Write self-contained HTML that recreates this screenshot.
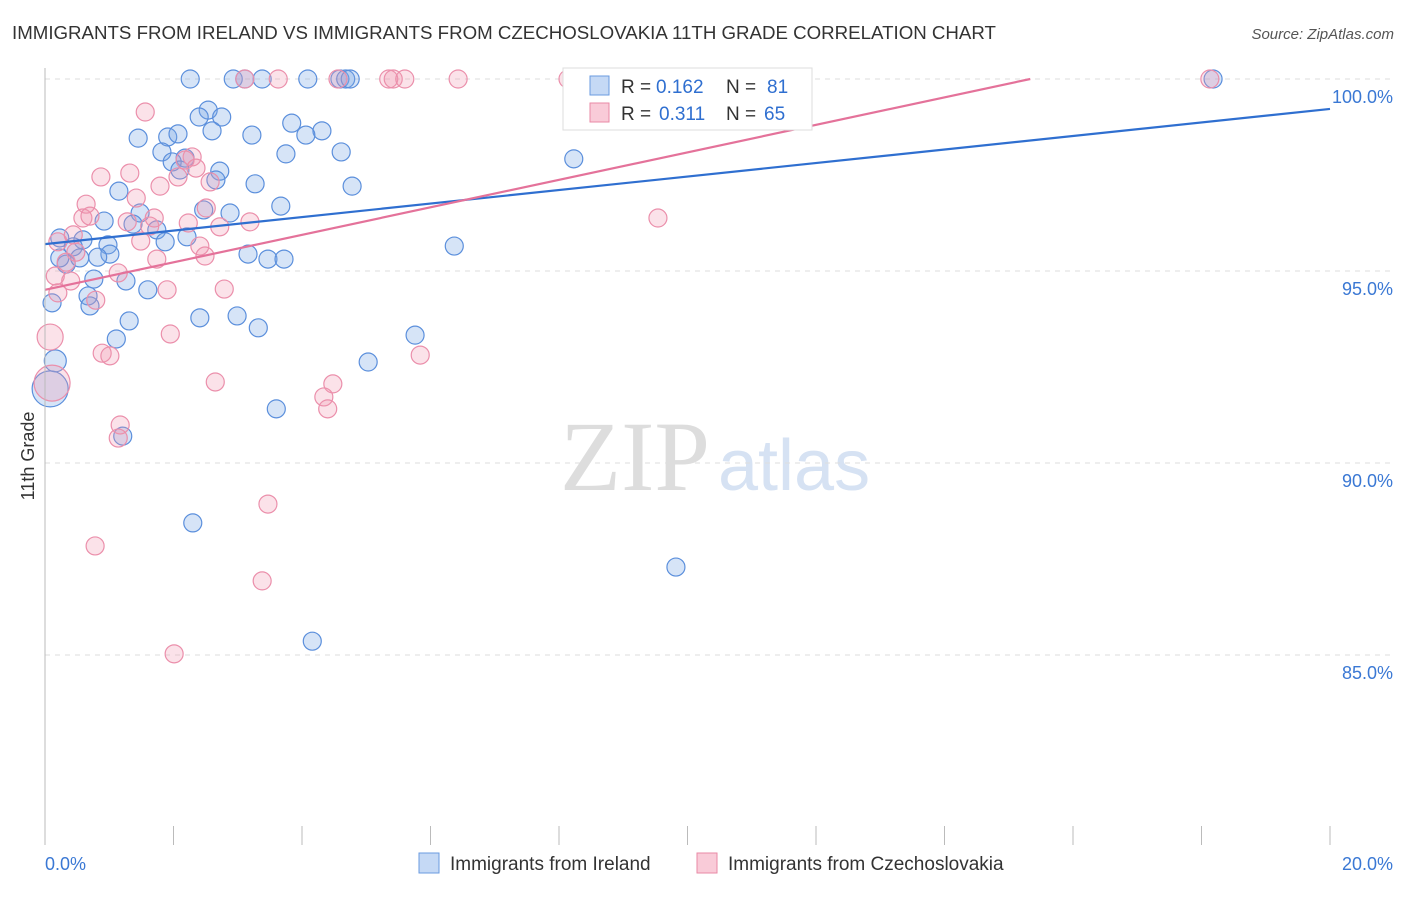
<!DOCTYPE html>
<html><head><meta charset="utf-8"><style>
body{margin:0;background:#fff;font-family:"Liberation Sans",sans-serif;}
</style></head><body>
<svg id="c" width="1406" height="892" xmlns="http://www.w3.org/2000/svg" font-family="Liberation Sans, sans-serif">
<text x="12" y="39" font-size="18.7" fill="#333">IMMIGRANTS FROM IRELAND VS IMMIGRANTS FROM CZECHOSLOVAKIA 11TH GRADE CORRELATION CHART</text>
<text x="1394" y="39" font-size="15" fill="#555" text-anchor="end" font-style="italic">Source: ZipAtlas.com</text>
<text x="635" y="490" font-size="100" fill="#ddd" text-anchor="middle" style="font-family:'Liberation Serif',serif">ZIP</text>
<text x="718" y="490" font-size="72" fill="#d6e2f3">atlas</text>
<text x="34" y="456" font-size="18" fill="#333" text-anchor="middle" transform="rotate(-90 34 456)">11th Grade</text>
<g id="grid"></g><g id="pts"></g><g id="lines"></g>
<line x1="45" y1="68" x2="45" y2="845" stroke="#bbb"/>
<g>
<rect x="563" y="68" width="249" height="62" fill="#fff" stroke="#ddd"/>
<rect x="590" y="76" width="19" height="19" fill="#c5d9f5" stroke="#6a9be0"/>
<rect x="590" y="103" width="19" height="19" fill="#f9cbd8" stroke="#e98aa6"/>
<text x="621" y="93" font-size="19" fill="#333">R =</text>
<text x="656" y="93" font-size="19" fill="#2f6fd0">0.162</text>
<text x="726" y="93" font-size="19" fill="#333">N =</text>
<text x="767" y="93" font-size="19" fill="#2f6fd0">81</text>
<text x="621" y="120" font-size="19" fill="#333">R =</text>
<text x="659" y="120" font-size="19" fill="#2f6fd0">0.311</text>
<text x="726" y="120" font-size="19" fill="#333">N =</text>
<text x="764" y="120" font-size="19" fill="#2f6fd0">65</text>
</g>
<g>
<rect x="419" y="853" width="20" height="20" fill="#c5d9f5" stroke="#6a9be0"/>
<text x="450" y="870" font-size="19" fill="#333">Immigrants from Ireland</text>
<rect x="697" y="853" width="20" height="20" fill="#f9cbd8" stroke="#e98aa6"/>
<text x="728" y="870" font-size="19" fill="#333">Immigrants from Czechoslovakia</text>
</g>
<text x="45" y="870" font-size="18" fill="#3a78d4">0.0%</text>
<text x="1393" y="870" font-size="18" fill="#3a78d4" text-anchor="end">20.0%</text>
</svg>
<script>
const yTicks=[100,95,90,85];
const yTickLabels=["100.0%","95.0%","90.0%","85.0%"];
const blueX=[2.26,2.93,3.11,3.38,4.09,4.59,4.68,4.75,18.18,2.54,2.40,2.75,1.91,2.07,1.45,2.60,3.22,3.84,4.31,4.06,1.82,2.18,1.98,3.75,4.61,8.23,2.72,2.66,2.10,3.27,4.78,1.15,3.67,2.47,2.88,1.48,0.92,1.37,1.74,2.21,1.87,0.23,0.59,0.44,0.98,1.01,0.82,0.33,0.23,0.54,3.16,3.47,3.72,6.37,1.26,0.76,0.67,0.70,1.60,0.11,1.31,2.41,2.99,3.32,1.11,5.76,5.03,0.16,0.08,3.60,1.21,2.30,9.82,4.16];
const blueY=[100,100,100,100,100,100,100,100,100,99.19,99.01,99.01,98.49,98.57,98.46,98.65,98.54,98.85,98.65,98.54,98.10,97.94,97.84,98.05,98.10,97.92,97.60,97.37,97.63,97.27,97.21,97.08,96.69,96.59,96.51,96.51,96.30,96.22,96.07,95.89,95.76,95.86,95.81,95.63,95.68,95.44,95.36,95.18,95.34,95.34,95.44,95.31,95.31,95.65,94.74,94.79,94.35,94.09,94.51,94.17,93.70,93.78,93.83,93.52,93.23,93.33,92.63,92.66,91.93,91.41,90.70,88.44,87.29,85.36];
const blueR=[9,9,9,9,9,9,9,9,9,9,9,9,9,9,9,9,9,9,9,9,9,9,9,9,9,9,9,9,9,9,9,9,9,9,9,9,9,9,9,9,9,9,9,9,9,9,9,9,9,9,9,9,9,9,9,9,9,9,9,9,9,9,9,9,9,9,9,11,18,9,9,9,9,9];
const pinkX=[3.11,3.63,4.56,5.35,5.42,5.60,6.43,8.14,18.13,1.56,0.87,1.32,1.79,1.42,2.07,2.29,2.18,2.35,2.57,2.51,0.64,0.59,0.70,1.28,1.63,1.49,1.74,1.70,2.23,2.72,3.19,2.41,2.49,0.44,0.20,0.48,0.33,0.16,0.40,1.14,0.79,0.20,1.90,2.79,0.08,0.11,0.89,1.01,1.95,2.65,5.84,4.48,4.34,4.40,9.54,1.17,1.14,3.47,0.78,3.38,2.01];
const pinkY=[100,100,100,100,100,100,100,100,100,99.14,97.45,97.55,97.21,96.90,97.45,97.97,97.89,97.68,97.32,96.64,96.74,96.38,96.43,96.28,96.17,95.78,95.31,96.38,96.25,96.15,96.28,95.65,95.39,95.94,95.76,95.49,95.23,94.87,94.74,94.95,94.24,94.43,94.51,94.53,93.28,92.08,92.86,92.79,93.36,92.11,92.81,92.06,91.72,91.41,96.38,90.99,90.65,88.93,87.84,86.93,85.03];
const blueTrend=[95.70,99.22];
const pinkTrend=[94.51,0.358];
const NS="http://www.w3.org/2000/svg";
const X=v=>45+v*64.25, Y=v=>79+(100-v)*38.4;
function mk(t,a,p){const e=document.createElementNS(NS,t);for(const k in a)e.setAttribute(k,a[k]);p.appendChild(e);return e;}
const g=document.getElementById('grid');
yTicks.forEach((t,i)=>{
 const l=mk('line',{x1:45,x2:1393,y1:Y(t),y2:Y(t),stroke:'#ddd','stroke-dasharray':'5,5'},g);
 
 
 const tx=mk('text',{x:1393,y:Y(t)+24,'font-size':18,fill:'#3a78d4','text-anchor':'end'},g);
 tx.textContent=yTickLabels[i];
 
 
});
for(let i=0;i<=10;i++){
 const l=mk('line',{x1:X(i*2),x2:X(i*2),y1:826,y2:845,stroke:'#bbb'},g);
 
 
}
const p=document.getElementById('pts');
blueX.forEach((x,i)=>{
 const c=mk('circle',{cx:X(x),cy:Y(blueY[i]),r:blueR[i],fill:'rgba(120,165,230,0.3)',stroke:'#5b8fdc','stroke-width':1.2},p);
 
 
});
pinkX.forEach((x,i)=>{
 const r=i==44?13:(i==45?18:9);
 const c=mk('circle',{cx:X(x),cy:Y(pinkY[i]),r:r,fill:'rgba(240,150,175,0.28)',stroke:'#eb8fab','stroke-width':1.2},p);
 
 
});
const L=document.getElementById('lines');
const bl=mk('line',{x1:X(0),y1:Y(blueTrend[0]),x2:X(20),y2:Y(blueTrend[1]),stroke:'#2f6fd0','stroke-width':2.2},L);


const xe=(100-pinkTrend[0])/pinkTrend[1];
const pl=mk('line',{x1:X(0),y1:Y(pinkTrend[0]),x2:X(xe),y2:Y(100),stroke:'#e4729a','stroke-width':2.2},L);


</script>
</body></html>
